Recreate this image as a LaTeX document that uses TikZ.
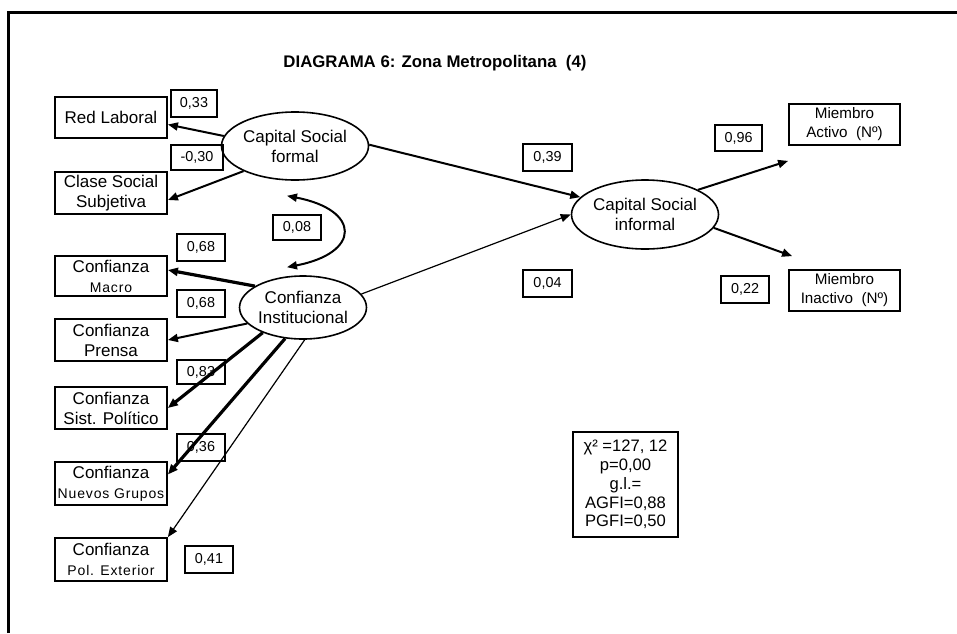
\documentclass[tikz,border=0pt]{standalone}
\usepackage{fontspec}
\setmainfont{Liberation Sans}
\newfontfamily\spacedfont[LetterSpace=6]{Liberation Sans}
\usetikzlibrary{shapes.geometric,arrows.meta,calc}

\newcommand{\subtxt}[1]{{\spacedfont\fontsize{7}{8}\selectfont #1}}

\begin{document}
\begin{tikzpicture}[
        x=0.5pt, y=-0.5pt,
        var/.style={draw, rectangle, line width=0.9pt, align=center, inner sep=1pt, minimum width=56pt, minimum height=20.5pt, font=\fontsize{8.5}{10}\selectfont},
        latent/.style={draw, ellipse, line width=0.8pt, align=center, inner sep=0pt, font=\fontsize{8.5}{10}\selectfont},
        coef/.style={draw, rectangle, line width=0.9pt, inner sep=0pt, minimum width=24pt, minimum height=13pt, font=\fontsize{7.2}{8}\selectfont},
        arrow/.style={-{Triangle[length=5pt,width=4pt]}, line width=1pt},
        thin arrow/.style={arrow, line width=0.6pt},
        heavy arrow/.style={arrow, line width=1.6pt}
    ]
        \useasboundingbox (0,0) rectangle (957,633);
        \draw[line width=1.5pt] (8,633) -- (8,12) -- (957,12);

        \node[font=\bfseries\fontsize{8.4}{10}\selectfont] (title) at (435,63) {DIAGRAMA 6: Zona Metropolitana\ \ (4)};

        % latent variables
        \node[latent, minimum width=63.5pt, minimum height=34pt] (csf) at (295,146) {Capital Social\\formal};
        \node[latent, minimum width=63pt, minimum height=31.5pt] (ci) at (303,307.5) {Confianza\\Institucional};
        \node[latent, minimum width=65pt, minimum height=34.5pt] (csi) at (645,214.5) {Capital Social\\informal};

        % observed variables
        \node[var] (redlab) at (111,117.5) {Red Laboral};
        \node[var, minimum height=21pt] (clase) at (111,193) {Clase Social\\Subjetiva};
        \node[var, minimum height=20pt] (macro) at (111,276) {Confianza\\\subtxt{Macro}};
        \node[var, minimum height=21pt] (prensa) at (111,340) {Confianza\\Prensa};
        \node[var, minimum height=21pt] (sist) at (111,408) {Confianza\\Sist. Político};
        \node[var, minimum height=21.5pt] (nuevos) at (111,483.5) {Confianza\\\subtxt{Nuevos Grupos}};
        \node[var, minimum height=21.5pt] (polext) at (111,559.5) {Confianza\\\subtxt{Pol. Exterior}};
        \node[var, minimum width=55.5pt, font=\fontsize{7.6}{9.5}\selectfont] (activo) at (844.5,124.5) {Miembro\\Activo\ \ (Nº)};
        \node[var, minimum width=55.5pt, font=\fontsize{7.6}{9.5}\selectfont] (inactivo) at (844.5,290.5) {Miembro\\Inactivo\ \ (Nº)};

        % coefficients
        \node[coef, minimum width=23pt, minimum height=13.5pt] (w33) at (194,103.5) {0,33};
        \node[coef, minimum width=26pt, minimum height=12.5pt] (w30) at (197,157.5) {-0,30};
        \node[coef, minimum height=12.5pt] (w08) at (297,227.5) {0,08};
        \node[coef, minimum height=13.5pt] (w68a) at (201,247.5) {0,68};
        \node[coef, minimum height=13.5pt] (w68b) at (201,303.5) {0,68};
        \node[coef, minimum height=12pt] (w83) at (201,372) {0,83};
        \node[coef, minimum height=13.5pt] (w36) at (201,447.5) {0,36};
        \node[coef, minimum height=13.5pt] (w41) at (209,559.5) {0,41};
        \node[coef, minimum width=24.5pt, minimum height=13.5pt] (w39) at (547.5,157.5) {0,39};
        \node[coef, minimum width=24.5pt, minimum height=13.5pt] (w04) at (547.5,283.5) {0,04};
        \node[coef, minimum width=23.5pt] (w96) at (738.5,138) {0,96};
        \node[coef, minimum height=13.5pt] (w22) at (745,289.5) {0,22};

        \node[draw, line width=0.9pt, align=center, inner sep=0pt, minimum width=52.5pt, minimum height=52.5pt, font=\fontsize{8.3}{9.4}\selectfont] (fit) at (625.5,484.5) {χ² =127, 12\\p=0,00\\g.l.=\\AGFI=0,88\\PGFI=0,50};

        \draw[arrow] (csf.172) -- (redlab.-7);
        \draw[arrow] (csf.206) -- (clase.-7);
        \draw[arrow] (csf.1) -- (csi.165);
        \draw[thin arrow] (ci.13) -- (csi.180);
        \draw[arrow] (csi.25) -- ($(activo.south west)+(0,15)$);
        \draw[arrow] (csi.-11) -- ($(inactivo.north west)+(4,-13)$);
        \draw[heavy arrow] (ci.156) -- (macro.6);
        \draw[arrow] (ci.196) -- (prensa.east);
        \draw[heavy arrow] (ci.212) -- (sist.east);
        \draw[heavy arrow] (ci.240) -- (nuevos.9);
        \draw[thin arrow] (ci.273) -- (polext.north east);
        \draw[arrow, {Triangle[length=5pt,width=4pt]}-{Triangle[length=5pt,width=4pt]}] ($(csf.south)+(-8,15)$) .. controls (361,210) and (361,253) .. ($(ci.north)+(-16,-8)$);
    \end{tikzpicture}
\end{document}
